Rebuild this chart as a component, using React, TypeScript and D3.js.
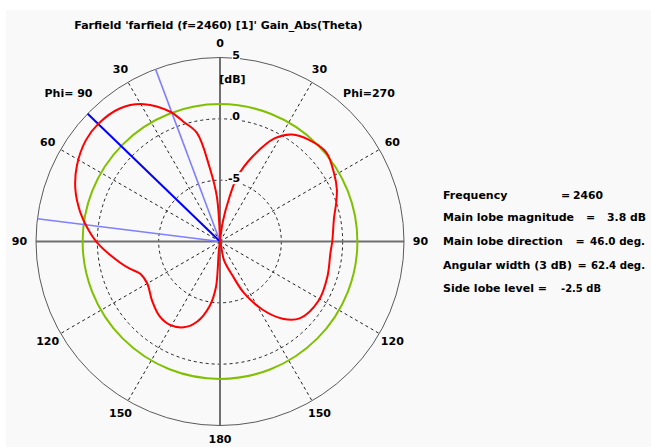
import React from 'react';
import * as d3 from 'd3';

// ---- data ----
const thetaPhi90 = [0, 4, 8, 12, 17, 21, 29, 37, 46, 53, 62, 70, 78, 85, 91, 102, 107, 112, 120, 131, 141, 149, 157, 164, 171, 175, 180];
const gainPhi90 = [-10, -6.33, -3.89, -0.95, 0.21, 1.33, 2.8, 3.58, 3.8, 3.7, 3.21, 2.55, 1.66, 0.76, -0.05, -1.68, -2.35, -2.99, -3.15, -2.66, -2.17, -2.07, -2.4, -3.19, -4.7, -6.3, -10];
const thetaPhi270 = [0, 8, 12, 15, 21, 28, 34, 41, 50, 59, 66, 72, 78, 90, 96, 108, 121, 134, 141, 148, 155, 160, 168, 180];
const gainPhi270 = [-10, -8.37, -6.33, -4.54, -2.58, -0.46, 0.52, 1.0, 1.3, 0.84, 0.43, -0.05, -0.49, -0.85, -0.95, -0.79, -0.63, -0.98, -1.9, -3.44, -5.35, -7.09, -8.45, -10];

const gridAngles = [30, 60, 120, 150];
const sideAngleLabels = [30, 60, 90, 120, 150];
const ringLevels = [0, -5];
const dbTickValues = [5, 0, -5];
const dbTickLabels = ['5', '0', '-5'];
const mainLobeDirection = 46;
const beamEdges = [20.5, 82.9];
const threeDbLevel = 1.2;

const titleText = "Farfield 'farfield (f=2460) [1]' Gain_Abs(Theta)";
const infoLabels = ['Frequency', 'Main lobe magnitude', 'Main lobe direction', 'Angular width (3 dB)', 'Side lobe level ='];
const infoHasEq = [true, true, true, true, false];
const infoValues = ['2460', '3.8 dB', '46.0 deg.', '62.4 deg.', '-2.5 dB'];

// ---- layout ----
const W = 651, H = 447;
const cx = 220, cy = 241.5, R = 184;
const FONT = "'DejaVu Sans', 'Liberation Sans', sans-serif";
const infoRowY = [195, 217.5, 241.5, 265, 288.5];
const infoEqX = [561, 586, 575.5, 577.5, 555];
const infoValX = [573, 607, 590, 591, 561];
const infoValW = [30, 39, 55, 54, 40];

const rad = (d: number) => (d * Math.PI) / 180;

export default function App() {
  const r = d3.scaleLinear().domain([-10, 5]).range([0, R]).clamp(true);
  const pt = (angDeg: number, rr: number) => [cx + rr * Math.sin(rad(angDeg)), cy - rr * Math.cos(rad(angDeg))];

  const raw: [number, number][] = [
    ...thetaPhi270.map((t, i) => [rad(t), r(gainPhi270[i])] as [number, number]),
    ...thetaPhi90.map((t, i) => [2 * Math.PI - rad(t), r(gainPhi90[i])] as [number, number]).reverse(),
  ];
  const pts = raw.filter((p, i) => i === 0 || !(p[1] === 0 && raw[i - 1][1] === 0));
  const radial = d3
    .lineRadial<[number, number]>()
    .angle((d) => d[0])
    .radius((d) => d[1])
    .curve(d3.curveCatmullRom.alpha(0.5));
  const curvePath = radial(pts) || '';

  const textStyle = { fontFamily: FONT, fontWeight: 700, fontSize: 11, fill: '#000' } as const;

  return (
    <svg width={W} height={H} style={{ position: 'absolute', left: 0, top: 0, background: '#fff' }}>
      <rect x={6} y={10} width={W - 6} height={H - 10} fill="#f9f9f9" />
      <text x={218.5} y={25} textAnchor="middle" dominantBaseline="central" style={textStyle}>
        {titleText}
      </text>

      {/* dashed grid */}
      <g stroke="#222" strokeWidth={1} strokeDasharray="3,3" fill="none">
        {ringLevels.map((v) => (
          <circle key={v} cx={cx} cy={cy} r={r(v)} />
        ))}
        {gridAngles
          .flatMap((a) => [a, -a])
          .map((a) => {
            const [x, y] = pt(a, R);
            return <line key={a} x1={cx} y1={cy} x2={x} y2={y} />;
          })}
      </g>

      {/* axes */}
      <g stroke="#707070" strokeWidth={2}>
        <line x1={cx} y1={cy - R} x2={cx} y2={cy + R} />
        <line x1={cx - R} y1={cy} x2={cx + R} y2={cy} />
      </g>
      <circle cx={cx} cy={cy} r={R} fill="none" stroke="#5a5a5a" strokeWidth={1} />

      {/* 3 dB level */}
      <circle cx={cx} cy={cy} r={r(threeDbLevel)} fill="none" stroke="#80c000" strokeWidth={2} />

      {/* beam width and main lobe */}
      {beamEdges.map((a) => {
        const [x, y] = pt(-a, R);
        return <line key={a} x1={cx} y1={cy} x2={x} y2={y} stroke="#8080ff" strokeWidth={1.6} />;
      })}
      {(() => {
        const [x, y] = pt(-mainLobeDirection, R);
        return <line x1={cx} y1={cy} x2={x} y2={y} stroke="#0000ff" strokeWidth={2} />;
      })()}

      {/* pattern */}
      <path d={curvePath} transform={`translate(${cx},${cy})`} fill="none" stroke="#ff0000" strokeWidth={2} strokeLinejoin="round" />

      {/* dB labels */}
      {dbTickValues.map((v, i) => {
        const y = cy - r(v) - 2;
        const x = i === 2 ? 234 : 236;
        return (
          <g key={v}>
            <rect x={x - (i === 2 ? 7 : 4)} y={y - 6} width={i === 2 ? 14 : 8} height={12} fill="#f9f9f9" />
            <text x={x} y={y} textAnchor="middle" dominantBaseline="central" style={textStyle}>
              {dbTickLabels[i]}
            </text>
          </g>
        );
      })}
      <text x={232.5} y={79} textAnchor="middle" dominantBaseline="central" style={textStyle}>
        [dB]
      </text>

      {/* angle labels */}
      {(() => {
        const [x, y] = pt(0, 198);
        return (
          <text x={x} y={y} textAnchor="middle" dominantBaseline="central" style={textStyle}>
            0
          </text>
        );
      })()}
      {(() => {
        const [x, y] = pt(180, 198);
        return (
          <text x={x} y={y} textAnchor="middle" dominantBaseline="central" style={textStyle}>
            180
          </text>
        );
      })()}
      {sideAngleLabels.flatMap((a) =>
        [a, -a].map((s) => {
          const [x, y] = pt(s, a === 90 ? 200.5 : 199);
          return (
            <text key={s} x={x} y={y} textAnchor="middle" dominantBaseline="central" style={textStyle}>
              {String(a)}
            </text>
          );
        })
      )}
      <text x={68.5} y={93} textAnchor="middle" dominantBaseline="central" style={{ ...textStyle, whiteSpace: 'pre' }}>
        {'Phi= 90'}
      </text>
      <text x={369} y={93} textAnchor="middle" dominantBaseline="central" style={textStyle}>
        Phi=270
      </text>

      {/* info block */}
      {infoLabels.map((lab, i) => (
        <g key={lab}>
          <text x={443} y={infoRowY[i]} dominantBaseline="central" style={textStyle}>
            {lab}
          </text>
          {infoHasEq[i] && (
            <text x={infoEqX[i]} y={infoRowY[i]} dominantBaseline="central" style={textStyle}>
              =
            </text>
          )}
          <text
            x={infoValX[i]}
            y={infoRowY[i]}
            dominantBaseline="central"
            textLength={infoValW[i]}
            lengthAdjust="spacingAndGlyphs"
            style={textStyle}
          >
            {infoValues[i]}
          </text>
        </g>
      ))}
    </svg>
  );
}
